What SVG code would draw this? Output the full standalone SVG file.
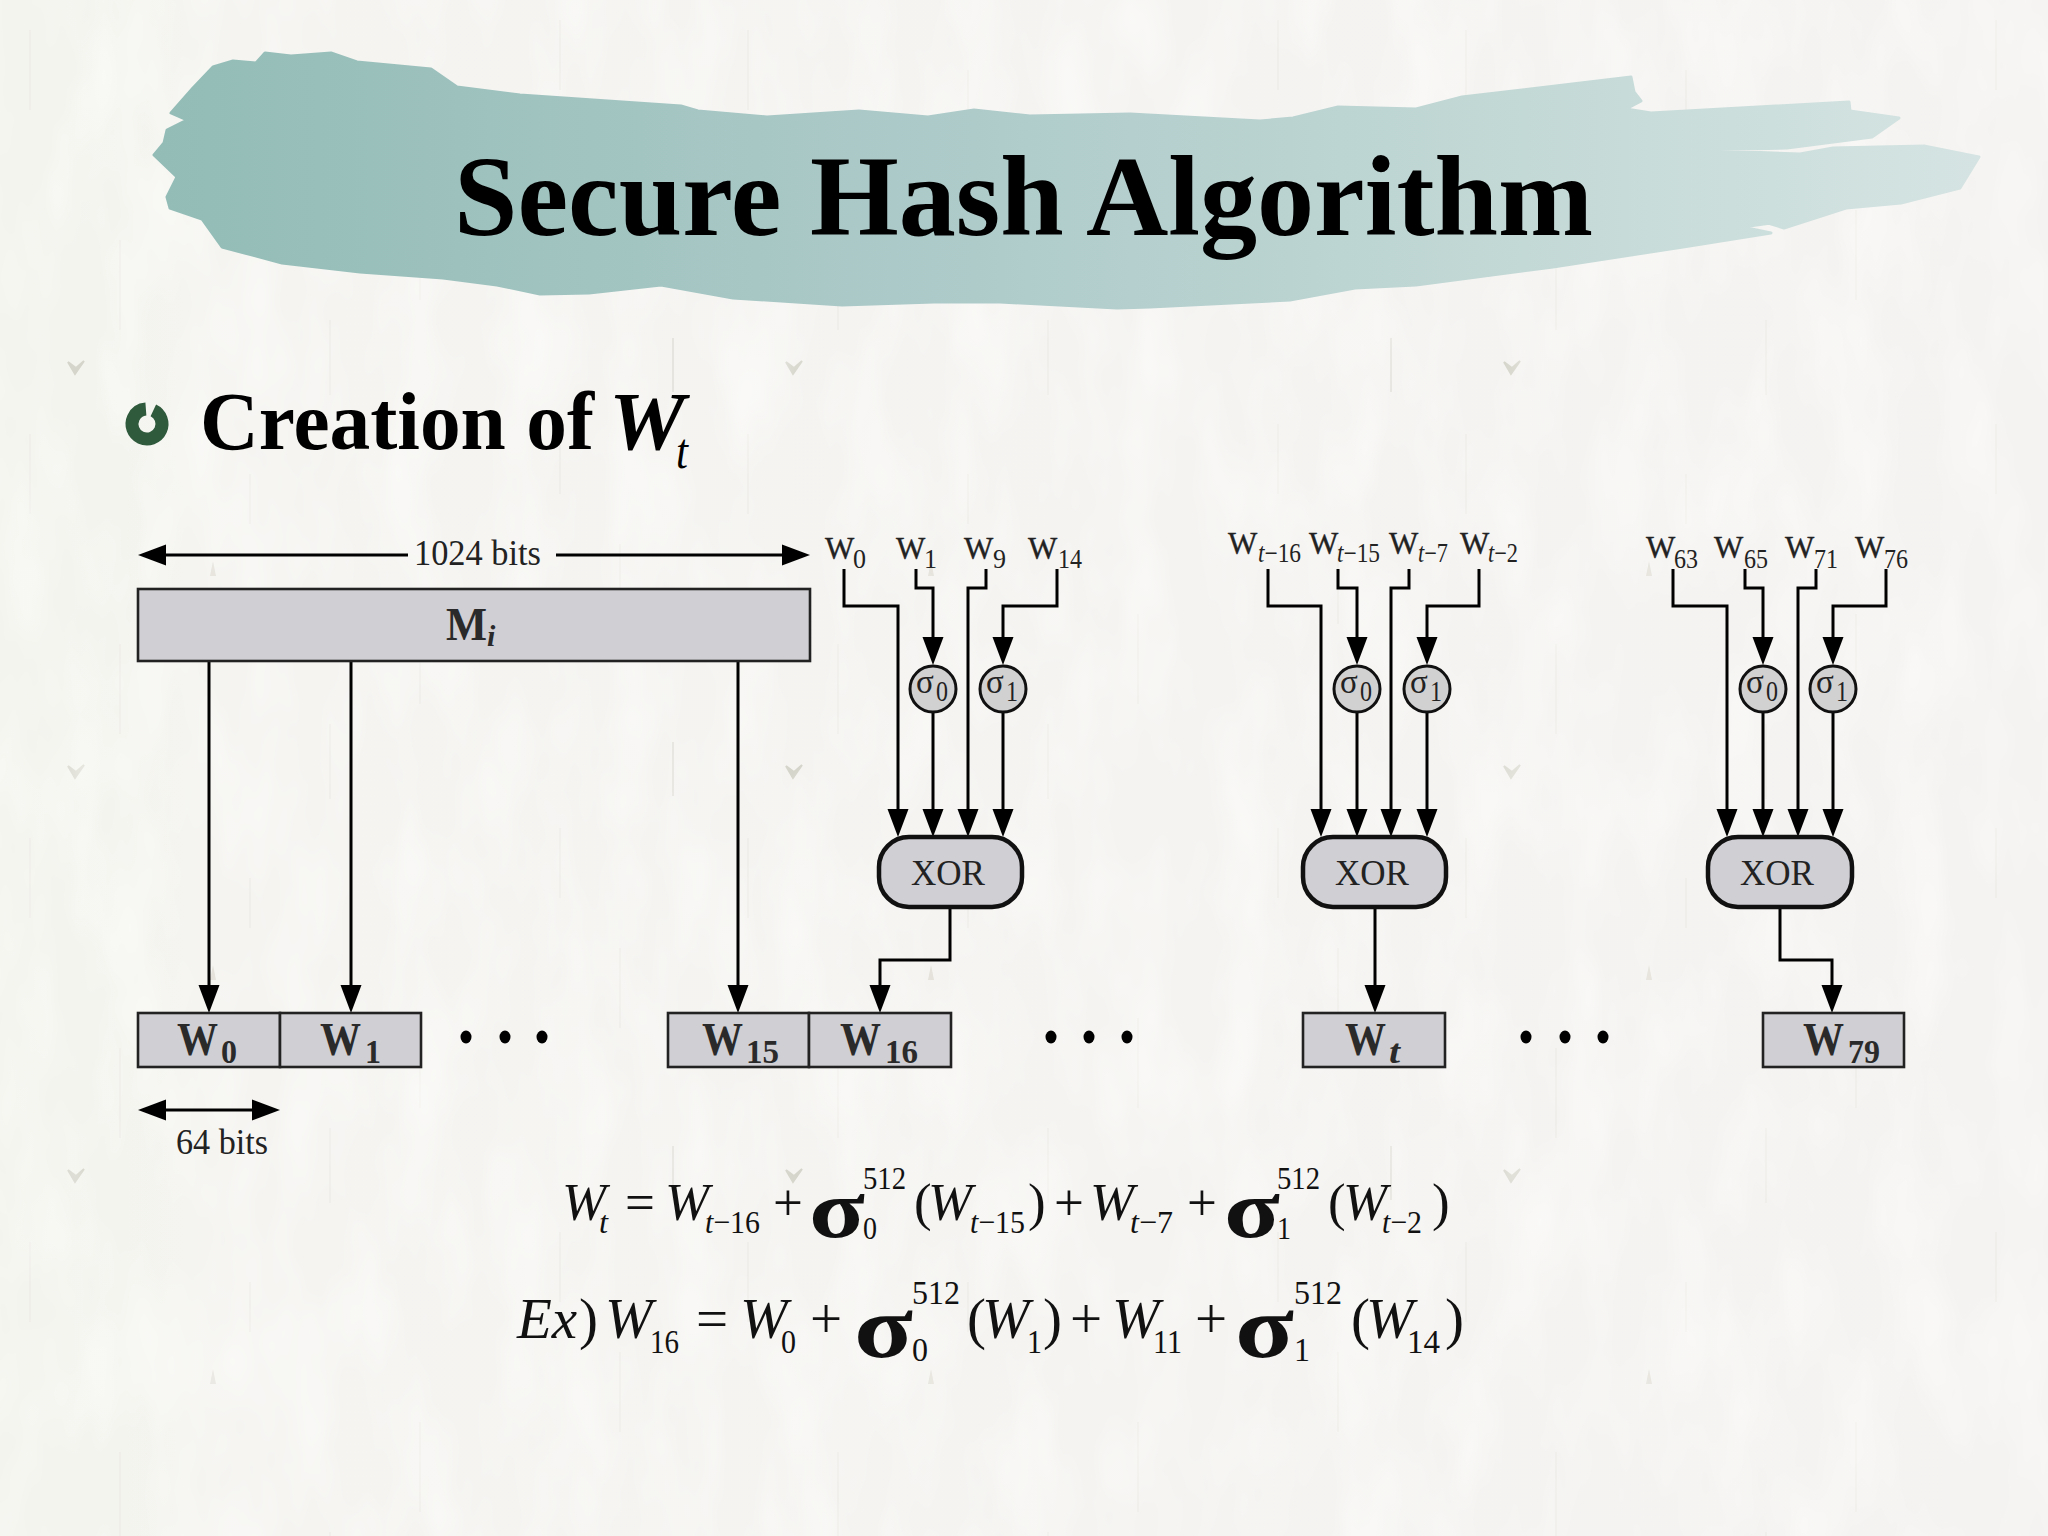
<svg xmlns="http://www.w3.org/2000/svg" width="2048" height="1536" viewBox="0 0 2048 1536">
<style>
text{font-family:"Liberation Serif","Times New Roman",serif;fill:#222}
.t{fill:#000;font-weight:bold}
.lb{font-size:36px}
.w{font-size:31px;stroke:#222;stroke-width:.35}
.s{font-size:27px}
.bw{font-size:46px;font-weight:bold;fill:#2a2a2a}
.bs{font-size:34px;font-weight:bold;fill:#2a2a2a}
.bi{font-size:30px;font-weight:bold;font-style:italic;fill:#2a2a2a}
.xor{font-size:36px}
.sg{font-size:33px}
.ss{font-size:29px}
.box{fill:#d0cfd3;stroke:#222;stroke-width:2.6}
.xbox{fill:#cfcfd4;stroke:#111;stroke-width:4.5}
.circ{fill:#d2d1d1;stroke:#111;stroke-width:3}
.dot{fill:#000}
.c{fill:none;stroke:#000;stroke-width:3}
.a{marker-end:url(#ah)}
.f1,.f2,.fs1,.fs2,.sig1,.sig2,.sup1{fill:#111}
.f1{font-size:53px}.f2{font-size:57px}
.fi{font-style:italic}
.fs1{font-size:32px}.fs2{font-size:34px}.sup1{font-size:31px}
.sig1{font-size:82px;font-weight:bold}
.sig2{font-size:88px;font-weight:bold}
</style>
<defs>
<marker id="ah" markerUnits="userSpaceOnUse" markerWidth="28" markerHeight="22" viewBox="0 0 28 22" refX="18" refY="11" orient="auto-start-reverse"><path d="M0,0.5 L28,11 L0,21.5 Z" fill="#000"/></marker>
<linearGradient id="brush" x1="0" y1="0" x2="1" y2="0">
<stop offset="0" stop-color="#93bcb6"/><stop offset="0.45" stop-color="#aecbca"/><stop offset="0.75" stop-color="#c3d9d6"/><stop offset="1" stop-color="#d5e4e2"/>
</linearGradient>
<linearGradient id="edge" x1="0" y1="0" x2="1" y2="0">
<stop offset="0" stop-color="#f3f4ed"/><stop offset="0.12" stop-color="#f5f4f1"/><stop offset="1" stop-color="#f5f3f1"/>
</linearGradient>
<pattern id="paper" patternUnits="userSpaceOnUse" width="718" height="404">
<path d="M68,362 L75,374 L84,361 L76,368 Z" fill="#d6d5cb" stroke="#d6d5cb" stroke-width="2"/>
<path d="M213,157 L210,172 L216,172 Z" fill="#e4e2da"/>
<path d="M673,338 V392" stroke="#e2e0da" stroke-width="1.6" fill="none"/>
<path d="M30,30 V110 M250,70 V120 M420,210 V300 M560,20 V90 M120,240 V330 M330,320 V395 M620,140 V220" stroke="#eeede8" stroke-width="1.5" fill="none"/>
</pattern>
<filter id="mottle" x="0" y="0" width="100%" height="100%">
<feTurbulence type="fractalNoise" baseFrequency="0.018 0.007" numOctaves="3" seed="4"/>
<feColorMatrix values="0 0 0 0 0.985 0 0 0 0 0.985 0 0 0 0 0.975 0 0 0 1.1 -0.42"/>
</filter>
</defs>

<g id="background">
<rect width="2048" height="1536" fill="url(#edge)"/>
<rect width="2048" height="1536" fill="url(#paper)"/>
<rect width="2048" height="1536" filter="url(#mottle)"/>
</g>

<g id="title">
<path fill="url(#brush)" stroke="url(#brush)" stroke-width="3" stroke-linejoin="round" d="M265,53 L291,56 L331,53 L357,62 L431,69 L457,87 L520,95 L681,106 L698,111 L767,117 L859,111 L928,117 L974,110 L1030,116 L1130,114 L1260,121 L1293,118 L1338,107 L1416,109 L1462,97 L1631,77 L1634,92 L1641,101 L1626,109 L1651,113 L1849,102 L1850,111 L1899,118 L1872,137 L1787,148 L1697,150 L1800,154 L1833,148 L1924,146 L1979,157 L1960,188 L1901,203 L1846,208 L1784,228 L1742,215 L1771,223 L1742,227 L1771,233 L1683,247 L1553,267 L1416,285 L1355,288 L1290,300 L1150,307 L1117,308 L1000,302 L934,302 L842,305 L733,298 L661,285 L589,293 L540,294 L497,285 L443,278 L360,272 L282,263 L222,247 L202,219 L170,208 L167,197 L177,177 L154,155 L164,143 L167,130 L187,120 L171,113 L193,88 L213,67 L233,61 L256,63 Z"/>
<text class="t" x="454" y="235" font-size="115" textLength="1139" lengthAdjust="spacingAndGlyphs">Secure Hash Algorithm</text>
</g>

<g id="heading">
<circle cx="147" cy="424" r="15" fill="none" stroke="#2f5a3c" stroke-width="13" stroke-dasharray="86 8.2" transform="rotate(-65 147 424)"/>
<text class="t" x="200" y="449" font-size="82" textLength="394" lengthAdjust="spacingAndGlyphs">Creation of</text>
<text class="t" x="609" y="449" font-size="82" font-style="italic" textLength="76" lengthAdjust="spacingAndGlyphs">W</text>
<text x="676" y="468" font-size="50" font-style="italic" style="fill:#000" textLength="12" lengthAdjust="spacingAndGlyphs">t</text>
</g>

<g id="connectors">
<path class="c a" d="M408,555 H148"/>
<path class="c a" d="M556,555 H800"/>
<path class="c a" style="marker-start:url(#ah)" d="M148,1110 H270"/>
<path class="c a" d="M209,661 V1003"/>
<path class="c a" d="M351,661 V1003"/>
<path class="c a" d="M738,661 V1003"/>

<path class="c a" d="M844,569 V606 H898 V827"/>
<path class="c a" d="M916,569 V588 H933 V655"/>
<path class="c a" d="M933,712 V827"/>
<path class="c a" d="M986,569 V588 H968 V827"/>
<path class="c a" d="M1057,569 V606 H1003 V655"/>
<path class="c a" d="M1003,712 V827"/>
<path class="c a" d="M950,907 V960 H880 V1003"/>

<path class="c a" d="M1268,569 V606 H1321 V827"/>
<path class="c a" d="M1338,569 V588 H1357 V655"/>
<path class="c a" d="M1357,712 V827"/>
<path class="c a" d="M1409,569 V588 H1391 V827"/>
<path class="c a" d="M1479,569 V606 H1427 V655"/>
<path class="c a" d="M1427,712 V827"/>
<path class="c a" d="M1375,907 V1003"/>

<path class="c a" d="M1673,569 V606 H1727 V827"/>
<path class="c a" d="M1745,569 V588 H1763 V655"/>
<path class="c a" d="M1763,712 V827"/>
<path class="c a" d="M1816,569 V588 H1798 V827"/>
<path class="c a" d="M1886,569 V606 H1833 V655"/>
<path class="c a" d="M1833,712 V827"/>
<path class="c a" d="M1780,907 V960 H1832 V1003"/>
</g>

<g id="label-1024"><text class="lb" x="414" y="565" textLength="127" lengthAdjust="spacingAndGlyphs">1024 bits</text></g>
<g id="label-64"><text class="lb" x="176" y="1154" textLength="92" lengthAdjust="spacingAndGlyphs">64 bits</text></g>

<g id="node-Mi">
<rect class="box" x="138" y="589" width="672" height="72"/>
<text class="bw" x="446" y="640" textLength="41" lengthAdjust="spacingAndGlyphs">M</text><text class="bi" x="487" y="646">i</text>
</g>

<g id="inputs-1">
<text class="w" x="825" y="559">W</text><text class="s" x="853" y="568" textLength="13" lengthAdjust="spacingAndGlyphs">0</text>
<text class="w" x="896" y="559">W</text><text class="s" x="924" y="568" textLength="13" lengthAdjust="spacingAndGlyphs">1</text>
<text class="w" x="964" y="559">W</text><text class="s" x="993" y="568" textLength="13" lengthAdjust="spacingAndGlyphs">9</text>
<text class="w" x="1028" y="559">W</text><text class="s" x="1058" y="568" textLength="24" lengthAdjust="spacingAndGlyphs">14</text>
</g>
<g id="sigma0-1"><circle class="circ" cx="933" cy="689" r="23"/><text class="sg" x="916" y="693">σ</text><text class="ss" x="936" y="701" textLength="12" lengthAdjust="spacingAndGlyphs">0</text></g>
<g id="sigma1-1"><circle class="circ" cx="1003" cy="689" r="23"/><text class="sg" x="986" y="693">σ</text><text class="ss" x="1006" y="701" textLength="12" lengthAdjust="spacingAndGlyphs">1</text></g>
<g id="xor-1"><rect class="xbox" x="879" y="837" width="143" height="70" rx="30"/><text class="xor" x="911" y="885" textLength="74" lengthAdjust="spacingAndGlyphs">XOR</text></g>

<g id="inputs-2">
<text class="w" x="1228" y="554">W</text><text class="s" x="1258" y="562" textLength="43" lengthAdjust="spacingAndGlyphs"><tspan font-style="italic">t</tspan>−16</text>
<text class="w" x="1309" y="554">W</text><text class="s" x="1337" y="562" textLength="43" lengthAdjust="spacingAndGlyphs"><tspan font-style="italic">t</tspan>−15</text>
<text class="w" x="1389" y="554">W</text><text class="s" x="1418" y="562" textLength="30" lengthAdjust="spacingAndGlyphs"><tspan font-style="italic">t</tspan>−7</text>
<text class="w" x="1460" y="554">W</text><text class="s" x="1488" y="562" textLength="30" lengthAdjust="spacingAndGlyphs"><tspan font-style="italic">t</tspan>−2</text>
</g>
<g id="sigma0-2"><circle class="circ" cx="1357" cy="689" r="23"/><text class="sg" x="1340" y="693">σ</text><text class="ss" x="1360" y="701" textLength="12" lengthAdjust="spacingAndGlyphs">0</text></g>
<g id="sigma1-2"><circle class="circ" cx="1427" cy="689" r="23"/><text class="sg" x="1410" y="693">σ</text><text class="ss" x="1430" y="701" textLength="12" lengthAdjust="spacingAndGlyphs">1</text></g>
<g id="xor-2"><rect class="xbox" x="1303" y="837" width="143" height="70" rx="30"/><text class="xor" x="1335" y="885" textLength="74" lengthAdjust="spacingAndGlyphs">XOR</text></g>

<g id="inputs-3">
<text class="w" x="1646" y="558">W</text><text class="s" x="1674" y="568" textLength="24" lengthAdjust="spacingAndGlyphs">63</text>
<text class="w" x="1714" y="558">W</text><text class="s" x="1744" y="568" textLength="24" lengthAdjust="spacingAndGlyphs">65</text>
<text class="w" x="1785" y="558">W</text><text class="s" x="1814" y="568" textLength="24" lengthAdjust="spacingAndGlyphs">71</text>
<text class="w" x="1855" y="558">W</text><text class="s" x="1884" y="568" textLength="24" lengthAdjust="spacingAndGlyphs">76</text>
</g>
<g id="sigma0-3"><circle class="circ" cx="1763" cy="689" r="23"/><text class="sg" x="1746" y="693">σ</text><text class="ss" x="1766" y="701" textLength="12" lengthAdjust="spacingAndGlyphs">0</text></g>
<g id="sigma1-3"><circle class="circ" cx="1833" cy="689" r="23"/><text class="sg" x="1816" y="693">σ</text><text class="ss" x="1836" y="701" textLength="12" lengthAdjust="spacingAndGlyphs">1</text></g>
<g id="xor-3"><rect class="xbox" x="1708" y="837" width="144" height="70" rx="30"/><text class="xor" x="1740" y="885" textLength="74" lengthAdjust="spacingAndGlyphs">XOR</text></g>

<g id="node-W0"><rect class="box" x="138" y="1013" width="142" height="54"/><text class="bw" x="177" y="1055" textLength="41" lengthAdjust="spacingAndGlyphs">W</text><text class="bs" x="221" y="1063" textLength="16" lengthAdjust="spacingAndGlyphs">0</text></g>
<g id="node-W1"><rect class="box" x="280" y="1013" width="141" height="54"/><text class="bw" x="320" y="1055" textLength="41" lengthAdjust="spacingAndGlyphs">W</text><text class="bs" x="365" y="1063" textLength="16" lengthAdjust="spacingAndGlyphs">1</text></g>
<g id="node-W15"><rect class="box" x="668" y="1013" width="141" height="54"/><text class="bw" x="702" y="1055" textLength="41" lengthAdjust="spacingAndGlyphs">W</text><text class="bs" x="746" y="1063" textLength="33" lengthAdjust="spacingAndGlyphs">15</text></g>
<g id="node-W16"><rect class="box" x="809" y="1013" width="142" height="54"/><text class="bw" x="840" y="1055" textLength="41" lengthAdjust="spacingAndGlyphs">W</text><text class="bs" x="885" y="1063" textLength="33" lengthAdjust="spacingAndGlyphs">16</text></g>
<g id="node-Wt"><rect class="box" x="1303" y="1013" width="142" height="54"/><text class="bw" x="1345" y="1055" textLength="41" lengthAdjust="spacingAndGlyphs">W</text><text class="bi" x="1389" y="1063" style="font-size:34px" textLength="11" lengthAdjust="spacingAndGlyphs">t</text></g>
<g id="node-W79"><rect class="box" x="1763" y="1013" width="141" height="54"/><text class="bw" x="1803" y="1055" textLength="41" lengthAdjust="spacingAndGlyphs">W</text><text class="bs" x="1848" y="1063" textLength="32" lengthAdjust="spacingAndGlyphs">79</text></g>

<g id="ellipses">
<ellipse class="dot" cx="466" cy="1037" rx="5.5" ry="6.5"/><ellipse class="dot" cx="505" cy="1037" rx="5.5" ry="6.5"/><ellipse class="dot" cx="542" cy="1037" rx="5.5" ry="6.5"/>
<ellipse class="dot" cx="1051" cy="1037" rx="5.5" ry="6.5"/><ellipse class="dot" cx="1089" cy="1037" rx="5.5" ry="6.5"/><ellipse class="dot" cx="1127" cy="1037" rx="5.5" ry="6.5"/>
<ellipse class="dot" cx="1526" cy="1037" rx="5.5" ry="6.5"/><ellipse class="dot" cx="1565" cy="1037" rx="5.5" ry="6.5"/><ellipse class="dot" cx="1603" cy="1037" rx="5.5" ry="6.5"/>
</g>

<g id="formula-1">
<text class="f1 fi" x="562" y="1220">W</text><text class="fs1 fi" x="599" y="1233" textLength="9" lengthAdjust="spacingAndGlyphs">t</text>
<text class="f1" x="625" y="1220">=</text>
<text class="f1 fi" x="665" y="1220">W</text><text class="fs1" x="705" y="1233" textLength="55" lengthAdjust="spacingAndGlyphs"><tspan font-style="italic">t</tspan>−16</text>
<text class="f1" x="773" y="1220">+</text>
<text class="sig1" x="809" y="1237" textLength="56" lengthAdjust="spacingAndGlyphs">σ</text>
<text class="sup1" x="863" y="1189" textLength="43" lengthAdjust="spacingAndGlyphs">512</text><text class="sup1" x="863" y="1239" textLength="14" lengthAdjust="spacingAndGlyphs">0</text>
<text class="f1" x="914" y="1220">(</text>
<text class="f1 fi" x="928" y="1220">W</text><text class="fs1" x="970" y="1233" textLength="55" lengthAdjust="spacingAndGlyphs"><tspan font-style="italic">t</tspan>−15</text>
<text class="f1" x="1028" y="1220">)</text>
<text class="f1" x="1054" y="1220">+</text>
<text class="f1 fi" x="1090" y="1220">W</text><text class="fs1" x="1130" y="1233" textLength="43" lengthAdjust="spacingAndGlyphs"><tspan font-style="italic">t</tspan>−7</text>
<text class="f1" x="1187" y="1220">+</text>
<text class="sig1" x="1224" y="1237" textLength="56" lengthAdjust="spacingAndGlyphs">σ</text>
<text class="sup1" x="1277" y="1189" textLength="43" lengthAdjust="spacingAndGlyphs">512</text><text class="sup1" x="1277" y="1239" textLength="14" lengthAdjust="spacingAndGlyphs">1</text>
<text class="f1" x="1328" y="1220">(</text>
<text class="f1 fi" x="1343" y="1220">W</text><text class="fs1" x="1382" y="1233" textLength="40" lengthAdjust="spacingAndGlyphs"><tspan font-style="italic">t</tspan>−2</text>
<text class="f1" x="1432" y="1220">)</text>
</g>

<g id="formula-2">
<text class="f2 fi" x="517" y="1338">Ex</text><text class="f2" x="579" y="1338">)</text>
<text class="f2 fi" x="605" y="1338">W</text><text class="fs2" x="650" y="1353" textLength="29" lengthAdjust="spacingAndGlyphs">16</text>
<text class="f2" x="696" y="1338">=</text>
<text class="f2 fi" x="740" y="1338">W</text><text class="fs2" x="781" y="1353" textLength="15" lengthAdjust="spacingAndGlyphs">0</text>
<text class="f2" x="810" y="1338">+</text>
<text class="sig2" x="854" y="1357" textLength="59" lengthAdjust="spacingAndGlyphs">σ</text>
<text class="fs2" x="912" y="1304" textLength="48" lengthAdjust="spacingAndGlyphs">512</text><text class="fs2" x="912" y="1361" textLength="16" lengthAdjust="spacingAndGlyphs">0</text>
<text class="f2" x="967" y="1338">(</text>
<text class="f2 fi" x="982" y="1338">W</text><text class="fs2" x="1027" y="1353" textLength="15" lengthAdjust="spacingAndGlyphs">1</text>
<text class="f2" x="1043" y="1338">)</text>
<text class="f2" x="1070" y="1338">+</text>
<text class="f2 fi" x="1112" y="1338">W</text><text class="fs2" x="1153" y="1353" textLength="29" lengthAdjust="spacingAndGlyphs">11</text>
<text class="f2" x="1195" y="1338">+</text>
<text class="sig2" x="1235" y="1357" textLength="59" lengthAdjust="spacingAndGlyphs">σ</text>
<text class="fs2" x="1294" y="1304" textLength="48" lengthAdjust="spacingAndGlyphs">512</text><text class="fs2" x="1294" y="1361" textLength="16" lengthAdjust="spacingAndGlyphs">1</text>
<text class="f2" x="1351" y="1338">(</text>
<text class="f2 fi" x="1366" y="1338">W</text><text class="fs2" x="1407" y="1353" textLength="33" lengthAdjust="spacingAndGlyphs">14</text>
<text class="f2" x="1445" y="1338">)</text>
</g>
</svg>
